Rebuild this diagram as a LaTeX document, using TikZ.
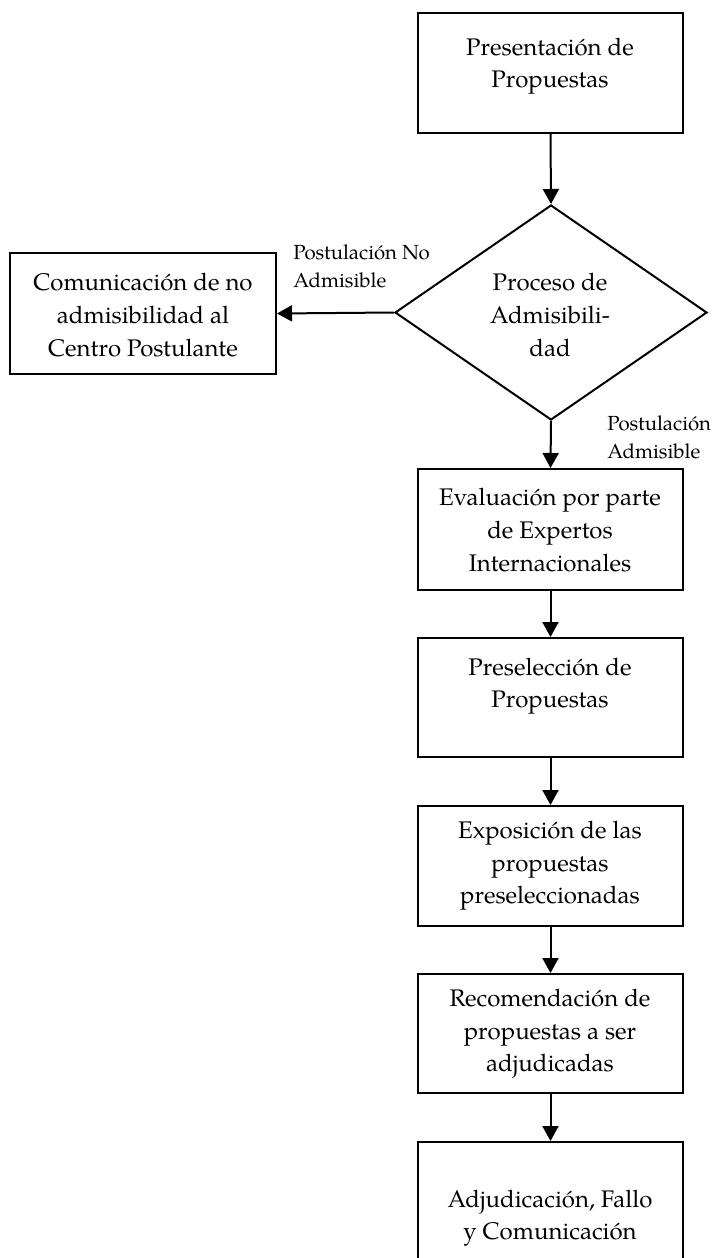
\documentclass[tikz,border=0pt]{standalone}
\usepackage{fontspec}
\setmainfont{TeX Gyre Pagella}
\usetikzlibrary{shapes.geometric,arrows.meta}
\tikzset{
  box/.style={draw, line width=1pt, rectangle, minimum width=132.5pt, inner sep=0pt},
  dia/.style={draw, line width=1pt, diamond, minimum width=156pt, minimum height=107.5pt, inner sep=0pt},
  txt/.style={align=center, font=\fontsize{12}{16.3}\selectfont, inner sep=0pt},
  lbl/.style={align=left, font=\fontsize{10.2}{14}\selectfont, inner sep=0pt, anchor=west},
  arr/.style={line width=1pt, -{Triangle[width=8pt,length=7.5pt]}}
}
\begin{document}
\begin{tikzpicture}[x=0.5pt,y=-0.5pt]
\useasboundingbox (0,0) rectangle (719,1258);
\clip (0,0) rectangle (719,1258);
% shapes
\node[box, minimum height=60pt] (b1) at (550.5,73) {};
\node[dia] (d) at (551,312.5) {};
\node[box, minimum width=133pt, minimum height=60.5pt] (lb) at (143,313.5) {};
\node[box, minimum height=60.5pt] (b3) at (550.5,529.5) {};
\node[box, minimum height=59.5pt] (b4) at (550.5,697.5) {};
\node[box, minimum height=60pt] (b5) at (550.5,866) {};
\node[box, minimum height=59.5pt] (b6) at (550.5,1033.5) {};
\node[box, minimum height=64pt] (b7) at (550.5,1206) {};
% texts
\node[txt] (t1) at (550,66) {Presentación de\\Propuestas};
\node[txt] (td) at (550,315) {Proceso de\\Admisibili-\\dad};
\node[txt] (tl) at (143,315) {Comunicación de no\\admisibilidad al\\Centro Postulante};
\node[txt] (t3) at (550,530) {Evaluación por parte\\de Expertos\\Internacionales};
\node[txt] (t4) at (550,686) {Preselección de\\Propuestas};
\node[txt] (t5) at (550,866) {Exposición de las\\propuestas\\preseleccionadas};
\node[txt] (t6) at (550,1034) {Recomendación de\\propuestas a ser\\adjudicadas};
\node[txt] (t7) at (550,1218) {Adjudicación, Fallo\\y Comunicación};
% labels
\node[lbl] (l1) at (293,266.5) {Postulación No\\Admisible};
\node[lbl] (l2) at (607,437.5) {Postulación\\Admisible};
% connectors
\draw[arr] (b1.south) -- (d.north);
\draw[arr] (d.west) -- (lb.east);
\draw[arr] (d.south) -- (b3.north);
\draw[arr] (b3.south) -- (b4.north);
\draw[arr] (b4.south) -- (b5.north);
\draw[arr] (b5.south) -- (b6.north);
\draw[arr] (b6.south) -- (b7.north);
\end{tikzpicture}
\end{document}
